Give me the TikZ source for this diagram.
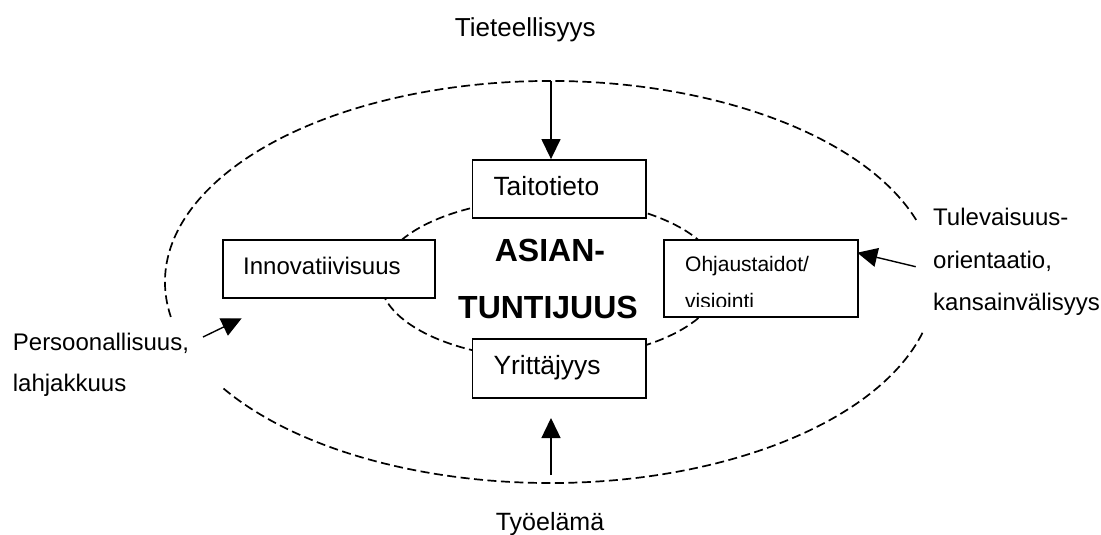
\documentclass[tikz,border=0pt]{standalone}
\usepackage{fontspec}
\setmainfont{Liberation Sans}
\usetikzlibrary{arrows.meta}
\begin{document}
\begin{tikzpicture}[x=1pt,y=1pt,
  box/.style={draw, line width=1.8pt, fill=white, inner sep=0pt},
  dashline/.style={dash pattern=on 9pt off 4.5pt, line width=1.7pt},
  arr/.style={-{Triangle[length=20pt,width=19pt]}, line width=1.4pt},
  lbl/.style={inner sep=0pt, font=\fontsize{24}{24}\selectfont, anchor=base west},
  lblbig/.style={inner sep=0pt, font=\fontsize{26.4}{26.4}\selectfont, anchor=base west},
  big/.style={inner sep=0pt, font=\fontsize{32}{32}\selectfont\bfseries, anchor=base},
  small/.style={inner sep=0pt, font=\fontsize{21}{21}\selectfont, anchor=base west}
]
\useasboundingbox (0,0) rectangle (1101,-535);

% outer dashed ellipse (with gaps at the side labels)
\draw[dashline] (550,-282) ++(18:385 and 201) arc[start angle=18, end angle=190, x radius=385, y radius=201];
\draw[dashline] (550,-282) ++(212:385 and 201) arc[start angle=212, end angle=346, x radius=385, y radius=201];

% inner dashed ellipse
\draw[dashline] (550,-279) ellipse[x radius=170, y radius=80];

% boxes
\node[box, minimum width=173.3pt, minimum height=57.7pt] (taito) at (559.1,-188.85) {};
\node[box, minimum width=212.3pt, minimum height=58pt] (inno) at (328.85,-269) {};
\node[box, minimum width=193.7pt, minimum height=77pt] (ohj) at (760.85,-278.5) {};
\node[box, minimum width=173.3pt, minimum height=59pt] (yrit) at (559.1,-368.5) {};

% box texts
\node[lblbig] (tTaito) at (493.3,-195) {Taitotieto};
\node[lbl] (tInno) at (243,-274) {Innovatiivisuus};
\node[lblbig] (tYrit) at (493.3,-374) {Yrittäjyys};
\node[small] (tOhj) at (685,-271.7) {Ohjaustaidot/};
\begin{scope}
  \clip (664,-240) rectangle (857.7,-306.5);
  \node[small] (tVis) at (685,-308) {visiointi};
\end{scope}

% centre text
\node[big] (tAsian) at (550,-261.7) {ASIAN-};
\node[big] (tTunti) at (548,-318.3) {TUNTIJUUS};

% outer labels
\node[inner sep=0pt, font=\fontsize{26}{26}\selectfont, anchor=base] (tTiet) at (525.3,-36.7) {Tieteellisyys};
\node[inner sep=0pt, font=\fontsize{25}{25}\selectfont, anchor=base] (tTyo) at (550,-530.2) {Työelämä};
\node[lbl] (tPers1) at (12.7,-350) {Persoonallisuus,};
\node[lbl] (tPers2) at (12.7,-391.7) {lahjakkuus};
\node[lbl] (tTul1) at (933,-225) {Tulevaisuus-};
\node[lbl] (tTul2) at (933,-268) {orientaatio,};
\node[lbl] (tTul3) at (933,-310) {kansainvälisyys};

% arrows
\coordinate (aT1) at (551,-81);
\draw[arr] (aT1) -- (aT1 |- taito.north);
\coordinate (aB1) at (551,-475);
\coordinate (aB2) at (551,-418);
\draw[arr] (aB1) -- (aB2);
\coordinate (aR1) at (915.7,-266.7);
\coordinate (aR2) at (857.3,-252.7);
\draw[arr] (aR1) -- (aR2);
\coordinate (aL1) at (203,-337);
\coordinate (aL2) at (241.7,-318.3);
\draw[arr] (aL1) -- (aL2);
\end{tikzpicture}
\end{document}
